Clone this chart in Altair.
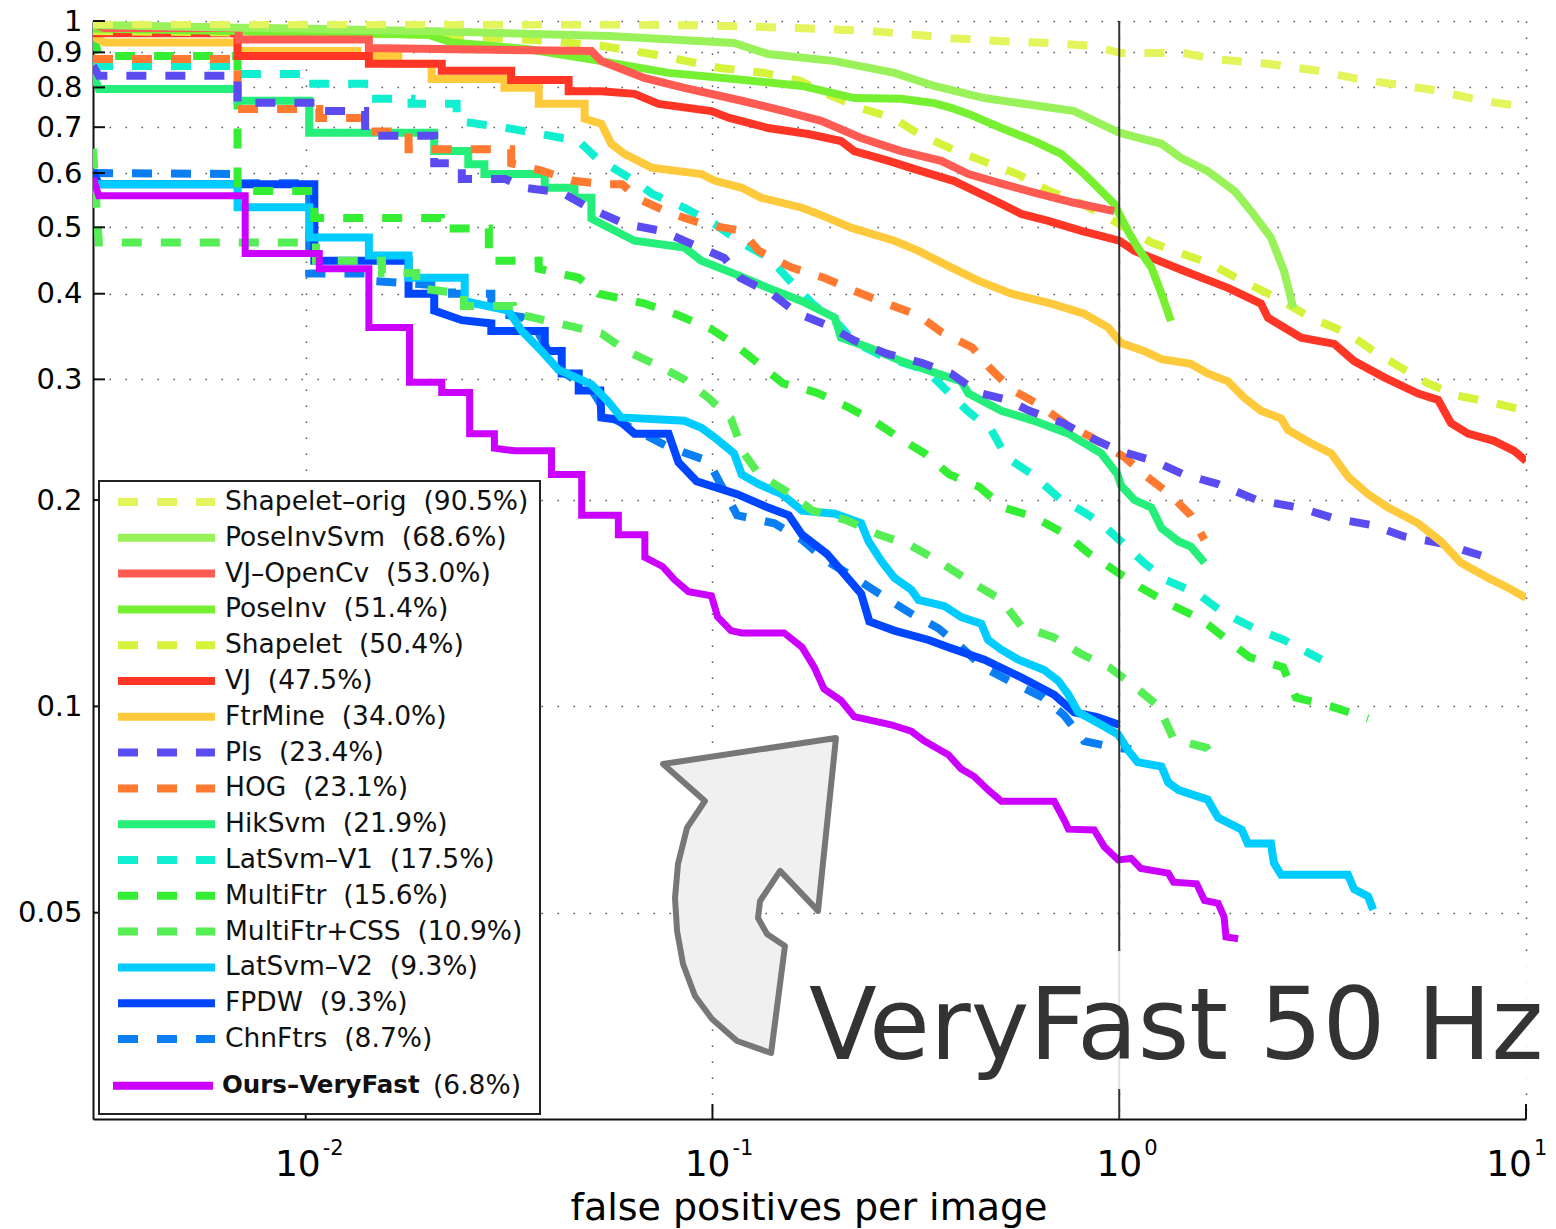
import altair as alt
import pandas as pd

# ------------------------------------------------------------------ data
METHODS = ["Shapelet-orig", "PoseInvSvm", "VJ-OpenCv", "PoseInv", "Shapelet", "VJ",
           "FtrMine", "Pls", "HOG", "HikSvm", "LatSvm-V1", "MultiFtr", "MultiFtr+CSS",
           "LatSvm-V2", "FPDW", "ChnFtrs", "Ours-VeryFast"]
SCORES = ["90.5%", "68.6%", "53.0%", "51.4%", "50.4%", "47.5%", "34.0%", "23.4%", "23.1%",
          "21.9%", "17.5%", "15.6%", "10.9%", "9.3%", "9.3%", "8.7%", "6.8%"]
COLORS = ["#E3F45C", "#9AF25A", "#FF5B52", "#78F032", "#D6F23A", "#FF3626", "#FFC93C",
          "#5B4CF2", "#FF7A30", "#26EE7A", "#10F0D0", "#33EE33", "#55EE55", "#00CCFF",
          "#0046FF", "#0A7EF2", "#CC00FF"]
STYLES = ["dashed", "solid", "solid", "solid", "dashed", "solid", "solid", "dashed", "dashed",
          "solid", "dashed", "dashed", "dashed", "solid", "solid", "dashed", "solid"]

# (false positives per image, miss rate)
SHAPELET_ORIG = [(0.003, 0.99), (0.06, 0.988), (0.1, 0.985), (0.193, 0.973), (0.242, 0.967),
                 (0.303, 0.957), (0.386, 0.944), (0.504, 0.935), (0.669, 0.929), (0.854, 0.92),
                 (1.01, 0.898), (1.44, 0.898), (1.71, 0.88), (2.32, 0.866), (3.08, 0.846),
                 (3.87, 0.823), (4.85, 0.807), (6.08, 0.791), (7.62, 0.767), (10, 0.749)]
POSEINVSVM = [(0.003, 0.987), (0.0196, 0.967), (0.0555, 0.951), (0.113, 0.929), (0.137, 0.895),
              (0.2, 0.874), (0.28, 0.84), (0.351, 0.804), (0.466, 0.772), (0.681, 0.747),
              (0.775, 0.739), (1.0, 0.687), (1.27, 0.662), (1.42, 0.631), (1.65, 0.604),
              (1.92, 0.565), (2.11, 0.528), (2.36, 0.483), (2.54, 0.432), (2.68, 0.381)]
VJ_OPENCV = [(0.003, 0.99), (0.0032, 0.977), (0.00684, 0.977), (0.00684, 0.94), (0.0143, 0.94),
             (0.0143, 0.913), (0.0504, 0.904), (0.0533, 0.874), (0.068, 0.826), (0.0853, 0.799),
             (0.118, 0.765), (0.15, 0.739), (0.185, 0.715), (0.232, 0.675), (0.291, 0.646),
             (0.365, 0.625), (0.426, 0.598), (0.513, 0.579), (0.618, 0.562), (0.775, 0.543),
             (0.972, 0.528)]
POSEINV = [(0.003, 0.975), (0.02, 0.955), (0.0229, 0.93), (0.035, 0.91), (0.0533, 0.874),
           (0.078, 0.84), (0.113, 0.823), (0.166, 0.804), (0.223, 0.772), (0.291, 0.77),
           (0.351, 0.759), (0.386, 0.747), (0.426, 0.732), (0.513, 0.698), (0.618, 0.668),
           (0.72, 0.64), (0.82, 0.598), (0.903, 0.565), (0.972, 0.541), (1.05, 0.494),
           (1.11, 0.467), (1.2, 0.437), (1.27, 0.4), (1.34, 0.365)]
SHAPELET = [(0.003, 0.967), (0.02, 0.955), (0.04, 0.935), (0.0533, 0.92), (0.0708, 0.895),
            (0.0865, 0.874), (0.104, 0.854), (0.134, 0.84), (0.164, 0.818), (0.191, 0.783),
            (0.23, 0.747), (0.278, 0.722), (0.322, 0.684), (0.382, 0.653), (0.461, 0.625),
            (0.562, 0.598), (0.673, 0.565), (0.811, 0.541), (0.967, 0.511), (1.2, 0.475),
            (1.68, 0.442), (2.0, 0.418), (2.43, 0.395), (2.96, 0.369), (3.66, 0.35),
            (4.21, 0.33), (4.93, 0.312), (5.74, 0.296), (6.8, 0.284), (8.39, 0.277), (10, 0.27)]
VJ = [(0.003, 0.96), (0.0068, 0.96), (0.0068, 0.889), (0.0143, 0.889), (0.0143, 0.866),
      (0.0216, 0.866), (0.0216, 0.846), (0.032, 0.846), (0.032, 0.82), (0.0443, 0.82),
      (0.0443, 0.79), (0.0533, 0.79), (0.0643, 0.783), (0.0737, 0.757), (0.0994, 0.739),
      (0.11, 0.722), (0.137, 0.698), (0.172, 0.684), (0.207, 0.668), (0.223, 0.646),
      (0.271, 0.625), (0.326, 0.604), (0.393, 0.584), (0.458, 0.559), (0.513, 0.541),
      (0.574, 0.523), (0.669, 0.511), (0.807, 0.494), (1.0, 0.478), (1.09, 0.462),
      (1.44, 0.432), (1.85, 0.408), (2.23, 0.387), (2.32, 0.369), (2.8, 0.345), (3.38, 0.338),
      (3.78, 0.319), (4.48, 0.302), (5.43, 0.286), (6.08, 0.28), (6.54, 0.259), (7.2, 0.25),
      (8.34, 0.244), (9.35, 0.236), (10, 0.228)]
FTRMINE = [(0.003, 0.95), (0.0032, 0.93), (0.0068, 0.93), (0.0068, 0.904), (0.0134, 0.904),
           (0.0134, 0.889), (0.0169, 0.889), (0.0169, 0.866), (0.0204, 0.866), (0.0204, 0.823),
           (0.0308, 0.823), (0.0308, 0.799), (0.0374, 0.799), (0.0374, 0.757), (0.0485, 0.757),
           (0.0485, 0.72), (0.0533, 0.708), (0.0564, 0.662), (0.0607, 0.64), (0.0708, 0.611),
           (0.0939, 0.598), (0.101, 0.585), (0.118, 0.571), (0.132, 0.552), (0.166, 0.534),
           (0.182, 0.523), (0.22, 0.499), (0.28, 0.478), (0.321, 0.462), (0.386, 0.437),
           (0.45, 0.418), (0.543, 0.4), (0.681, 0.387), (0.82, 0.374), (0.94, 0.357),
           (1.01, 0.339), (1.15, 0.33), (1.27, 0.321), (1.5, 0.316), (1.65, 0.306), (1.85, 0.298),
           (2.03, 0.282), (2.23, 0.27), (2.5, 0.263), (2.6, 0.253), (2.96, 0.242), (3.32, 0.234),
           (3.66, 0.216), (4.09, 0.204), (4.58, 0.195), (5.43, 0.185), (6.18, 0.174),
           (6.92, 0.162), (8.07, 0.154), (9.03, 0.149), (10, 0.144)]
PLS = [(0.003, 0.86), (0.0031, 0.832), (0.0068, 0.832), (0.0068, 0.76), (0.0108, 0.76),
       (0.0108, 0.739), (0.014, 0.739), (0.014, 0.68), (0.0207, 0.68), (0.0207, 0.62),
       (0.0242, 0.62), (0.0242, 0.588), (0.031, 0.588), (0.0345, 0.571), (0.0426, 0.562),
       (0.0496, 0.534), (0.0608, 0.506), (0.075, 0.494), (0.0888, 0.473), (0.107, 0.451),
       (0.117, 0.422), (0.14, 0.4), (0.161, 0.375), (0.193, 0.359), (0.223, 0.342),
       (0.268, 0.327), (0.328, 0.317), (0.386, 0.306), (0.45, 0.287), (0.531, 0.28),
       (0.601, 0.27), (0.728, 0.259), (0.844, 0.247), (1.0, 0.236), (1.22, 0.228),
       (1.44, 0.218), (1.75, 0.211), (2.18, 0.2), (2.77, 0.195), (3.38, 0.188), (4.16, 0.184),
       (5.01, 0.177), (6.18, 0.173), (7.75, 0.166)]
HOG = [(0.003, 0.88), (0.0068, 0.88), (0.0068, 0.744), (0.0108, 0.744), (0.0108, 0.722),
       (0.0143, 0.722), (0.0143, 0.69), (0.0179, 0.69), (0.0179, 0.65), (0.032, 0.65),
       (0.032, 0.62), (0.038, 0.605), (0.045, 0.585), (0.054, 0.578), (0.06, 0.578),
       (0.0658, 0.55), (0.0784, 0.525), (0.0944, 0.506), (0.118, 0.494), (0.13, 0.462),
       (0.156, 0.437), (0.188, 0.422), (0.223, 0.404), (0.268, 0.387), (0.321, 0.372),
       (0.367, 0.351), (0.435, 0.334), (0.48, 0.312), (0.543, 0.29), (0.632, 0.276),
       (0.733, 0.259), (0.854, 0.247), (1.03, 0.231), (1.15, 0.218), (1.33, 0.204),
       (1.5, 0.19), (1.62, 0.175)]
HIKSVM = [(0.003, 0.837), (0.0031, 0.796), (0.0068, 0.796), (0.0068, 0.765), (0.0102, 0.765),
          (0.0102, 0.687), (0.0207, 0.687), (0.0207, 0.646), (0.0251, 0.646), (0.0251, 0.618),
          (0.0275, 0.618), (0.0275, 0.598), (0.0387, 0.598), (0.0387, 0.571), (0.0458, 0.571),
          (0.0458, 0.552), (0.0504, 0.552), (0.0504, 0.515), (0.0533, 0.506), (0.0643, 0.478),
          (0.0853, 0.467), (0.0939, 0.447), (0.113, 0.428), (0.137, 0.408), (0.166, 0.39),
          (0.2, 0.369), (0.207, 0.345), (0.242, 0.334), (0.291, 0.319), (0.351, 0.307),
          (0.409, 0.298), (0.426, 0.286), (0.513, 0.27), (0.618, 0.261), (0.75, 0.25),
          (0.903, 0.234), (0.99, 0.218), (1.01, 0.21), (1.09, 0.2), (1.2, 0.195), (1.27, 0.182),
          (1.4, 0.174), (1.5, 0.171), (1.62, 0.162)]
LATSVM_V1 = [(0.003, 0.86), (0.0068, 0.86), (0.0068, 0.837), (0.0099, 0.837), (0.0099, 0.81),
             (0.0143, 0.81), (0.0143, 0.77), (0.0182, 0.77), (0.0182, 0.757), (0.0235, 0.757),
             (0.0235, 0.715), (0.0303, 0.70), (0.0349, 0.69), (0.0469, 0.668), (0.0519, 0.631),
             (0.0533, 0.625), (0.0615, 0.594), (0.0713, 0.559), (0.0853, 0.534), (0.101, 0.506),
             (0.119, 0.473), (0.138, 0.451), (0.155, 0.418), (0.176, 0.387), (0.204, 0.361),
             (0.223, 0.34), (0.26, 0.325), (0.336, 0.309), (0.372, 0.291), (0.423, 0.27),
             (0.485, 0.253), (0.528, 0.231), (0.611, 0.218), (0.713, 0.201), (0.807, 0.193),
             (0.903, 0.185), (1.01, 0.174), (1.15, 0.162), (1.3, 0.153), (1.56, 0.146),
             (1.8, 0.137), (2.15, 0.13), (2.54, 0.125), (3.14, 0.117)]
MULTIFTR = [(0.003, 0.957), (0.0031, 0.889), (0.0068, 0.889), (0.0068, 0.565), (0.0105, 0.565),
            (0.0105, 0.516), (0.0215, 0.516), (0.0215, 0.498), (0.0282, 0.498), (0.0282, 0.447),
            (0.0374, 0.447), (0.0374, 0.435), (0.0469, 0.422), (0.0525, 0.40), (0.0682, 0.387),
            (0.0825, 0.372), (0.0994, 0.355), (0.113, 0.338), (0.13, 0.316), (0.149, 0.296),
            (0.18, 0.287), (0.211, 0.275), (0.249, 0.261), (0.286, 0.247), (0.332, 0.234),
            (0.382, 0.218), (0.453, 0.209), (0.519, 0.195), (0.618, 0.189), (0.741, 0.178),
            (0.844, 0.167), (0.972, 0.158), (1.13, 0.149), (1.33, 0.141), (1.59, 0.134),
            (1.81, 0.126), (2.09, 0.118), (2.53, 0.114), (2.72, 0.103), (3.32, 0.1),
            (4.09, 0.096)]
MULTIFTR_CSS = [(0.003, 0.651), (0.0031, 0.475), (0.0106, 0.475), (0.0106, 0.447),
                (0.0154, 0.447), (0.0154, 0.429), (0.0187, 0.429), (0.0187, 0.408),
                (0.0245, 0.40), (0.0245, 0.384), (0.0323, 0.384), (0.0323, 0.375),
                (0.0409, 0.363), (0.0504, 0.353), (0.0533, 0.35), (0.0615, 0.33), (0.072, 0.316),
                (0.0853, 0.3), (0.0977, 0.282), (0.111, 0.263), (0.119, 0.235), (0.13, 0.218),
                (0.154, 0.205), (0.176, 0.193), (0.213, 0.187), (0.257, 0.178), (0.305, 0.172),
                (0.359, 0.163), (0.423, 0.153), (0.513, 0.143), (0.574, 0.131), (0.692, 0.126),
                (0.811, 0.119), (0.945, 0.114), (1.09, 0.107), (1.25, 0.1), (1.36, 0.0896),
                (1.64, 0.087), (1.68, 0.085)]
LATSVM_V2 = [(0.003, 0.578), (0.0068, 0.578), (0.0068, 0.535), (0.0102, 0.535), (0.0102, 0.483),
             (0.0143, 0.483), (0.0143, 0.455), (0.0179, 0.455), (0.0179, 0.422), (0.0246, 0.422),
             (0.0246, 0.39), (0.0315, 0.378), (0.034, 0.353), (0.038, 0.33), (0.0418, 0.31),
             (0.0504, 0.295), (0.0555, 0.278), (0.0596, 0.264), (0.0853, 0.261), (0.0939, 0.255),
             (0.101, 0.247), (0.113, 0.234), (0.118, 0.218), (0.13, 0.211), (0.148, 0.204),
             (0.166, 0.193), (0.2, 0.191), (0.232, 0.185), (0.242, 0.174), (0.26, 0.163),
             (0.28, 0.154), (0.308, 0.148), (0.321, 0.143), (0.372, 0.14), (0.409, 0.135),
             (0.458, 0.132), (0.476, 0.125), (0.513, 0.121), (0.565, 0.117), (0.654, 0.113),
             (0.708, 0.109), (0.75, 0.104), (0.793, 0.098), (0.903, 0.094), (0.994, 0.091),
             (1.05, 0.0864), (1.11, 0.0829), (1.27, 0.0817), (1.32, 0.0774), (1.4, 0.0755),
             (1.65, 0.0731), (1.75, 0.0688), (2.0, 0.0661), (2.07, 0.0631), (2.36, 0.0631),
             (2.4, 0.0591), (2.5, 0.0568), (3.65, 0.0568), (3.78, 0.0541), (4.09, 0.0528),
             (4.21, 0.0505)]
FPDW = [(0.003, 0.604), (0.0031, 0.578), (0.0105, 0.578), (0.0105, 0.447), (0.0179, 0.447),
        (0.0179, 0.4), (0.0207, 0.4), (0.0207, 0.378), (0.0242, 0.366), (0.0286, 0.362),
        (0.0286, 0.353), (0.0387, 0.353), (0.0387, 0.33), (0.0426, 0.33), (0.0426, 0.306),
        (0.0469, 0.306), (0.0469, 0.289), (0.053, 0.289), (0.0533, 0.264), (0.0587, 0.262),
        (0.0643, 0.25), (0.078, 0.25), (0.0825, 0.227), (0.0914, 0.213), (0.115, 0.204),
        (0.137, 0.195), (0.154, 0.19), (0.166, 0.178), (0.191, 0.167), (0.211, 0.156),
        (0.232, 0.146), (0.243, 0.133), (0.28, 0.129), (0.34, 0.125), (0.38, 0.122),
        (0.466, 0.117), (0.578, 0.11), (0.692, 0.104), (0.775, 0.098), (0.878, 0.0965),
        (1.0, 0.094)]
CHNFTRS = [(0.003, 0.6), (0.0068, 0.598), (0.0068, 0.58), (0.0102, 0.58), (0.0102, 0.428),
           (0.0143, 0.428), (0.0143, 0.418), (0.0229, 0.41), (0.0229, 0.4), (0.0286, 0.4),
           (0.0286, 0.375), (0.034, 0.37), (0.0374, 0.35), (0.0418, 0.31), (0.0504, 0.29),
           (0.0555, 0.265), (0.0673, 0.25), (0.078, 0.239), (0.0977, 0.228), (0.115, 0.19),
           (0.142, 0.185), (0.166, 0.175), (0.191, 0.163), (0.22, 0.155), (0.257, 0.146),
           (0.305, 0.137), (0.359, 0.13), (0.409, 0.122), (0.463, 0.114), (0.552, 0.108),
           (0.65, 0.103), (0.733, 0.097), (0.82, 0.089), (0.983, 0.087), (1.07, 0.0866)]
OURS = [(0.003, 0.59), (0.0031, 0.556), (0.0071, 0.556), (0.0071, 0.458), (0.0108, 0.458),
        (0.0108, 0.435), (0.0143, 0.435), (0.0143, 0.357), (0.018, 0.357), (0.018, 0.297),
        (0.0216, 0.297), (0.0216, 0.287), (0.0253, 0.287), (0.0253, 0.25), (0.0291, 0.25),
        (0.0291, 0.238), (0.0327, 0.236), (0.0402, 0.236), (0.0402, 0.218), (0.0477, 0.218),
        (0.0477, 0.19), (0.0587, 0.19), (0.0587, 0.178), (0.0682, 0.178), (0.0682, 0.165),
        (0.0754, 0.16), (0.0807, 0.153), (0.0873, 0.147), (0.0994, 0.145), (0.103, 0.135),
        (0.111, 0.129), (0.118, 0.128), (0.15, 0.128), (0.166, 0.122), (0.178, 0.114),
        (0.188, 0.106), (0.207, 0.102), (0.223, 0.0966), (0.275, 0.094), (0.308, 0.092),
        (0.332, 0.089), (0.38, 0.085), (0.409, 0.081), (0.44, 0.079), (0.476, 0.0755),
        (0.513, 0.0727), (0.692, 0.0727), (0.732, 0.0683), (0.75, 0.0662), (0.868, 0.066),
        (0.919, 0.0624), (0.994, 0.0597), (1.07, 0.06), (1.13, 0.058), (1.32, 0.0571),
        (1.36, 0.0554), (1.55, 0.0551), (1.62, 0.0521), (1.75, 0.0516), (1.81, 0.0493),
        (1.83, 0.0461), (1.96, 0.0458)]

CURVES = [SHAPELET_ORIG, POSEINVSVM, VJ_OPENCV, POSEINV, SHAPELET, VJ, FTRMINE, PLS, HOG,
          HIKSVM, LATSVM_V1, MULTIFTR, MULTIFTR_CSS, LATSVM_V2, FPDW, CHNFTRS, OURS]

Y_TICKS = [0.05, 0.1, 0.2, 0.3, 0.4, 0.5, 0.6, 0.7, 0.8, 0.9, 1]
X_TICKS = [0.01, 0.1, 1, 10]
X_EXPONENTS = ["-2", "-1", "0", "1"]
X_TITLE = "false positives per image"
BIG_TEXT = "VeryFast 50 Hz"

# arrow outline in a unit box (decoration)
ARROW_OUTLINE = [(-0.549, -0.835), (0.549, -1.0), (0.435, 0.098), (0.194, -0.156),
                 (0.067, 0.035), (0.054, 0.143), (0.111, 0.244), (0.225, 0.321), (0.137, 1.0),
                 (-0.079, 0.924), (-0.238, 0.784), (-0.346, 0.638), (-0.422, 0.435),
                 (-0.46, 0.225), (-0.473, 0.016), (-0.454, -0.2), (-0.397, -0.429),
                 (-0.283, -0.6)]

# ------------------------------------------------------------------ setup
W, H = 1433, 1098
FONT = "DejaVu Sans"
DASH = [20, 19]

xscale = alt.Scale(type="log", domain=[0.003, 10], nice=False)
yscale = alt.Scale(type="log", domain=[0.025, 1], nice=False)
cscale = alt.Scale(domain=METHODS, range=COLORS)
dscale = alt.Scale(domain=["solid", "dashed"], range=[[1, 0], DASH])

grid_kw = dict(grid=True, gridColor="#555555", gridDash=[1.5, 14.5], gridWidth=1.5,
               domainColor="#111111", domainWidth=2, ticks=False, tickSize=0, title=None)
XAXIS = alt.Axis(values=X_TICKS, labels=False, **grid_kw)
YAXIS = alt.Axis(values=Y_TICKS, format="~g", labelFont=FONT, labelFontSize=29,
                 labelColor="#000000", labelPadding=11, labelOverlap=False,
                 labelFlush=False, **grid_kw)


def X():
    return alt.X("fppi:Q", scale=xscale, axis=XAXIS)


def Y():
    return alt.Y("miss:Q", scale=yscale, axis=YAXIS)


# ------------------------------------------------------------------ curves (one layer each)
curve_layers = []
order_idx = list(range(len(METHODS) - 1))[::-1] + [len(METHODS) - 1]   # ours on top
for k in order_idx:
    df = pd.DataFrame(CURVES[k], columns=["fppi", "miss"])
    df["order"] = range(len(df))
    kw = dict(strokeWidth=7 if METHODS[k] == "Ours-VeryFast" else 8, strokeCap="butt",
              strokeJoin="miter", clip=True, color=COLORS[k])
    if STYLES[k] == "dashed":
        kw["strokeDash"] = DASH
    curve_layers.append(alt.Chart(df).mark_line(**kw).encode(x=X(), y=Y(), order="order:Q"))

vline = alt.Chart(pd.DataFrame({"fppi": [1.0]})).mark_rule(color="#333333", strokeWidth=2).encode(x=X())

yticks = alt.Chart(pd.DataFrame({"miss": Y_TICKS})).mark_rule(color="#111111", strokeWidth=2).encode(
    y=Y(), x=alt.value(0), x2=alt.value(12))
xticks = alt.Chart(pd.DataFrame({"fppi": [0.01, 0.1, 10]})).mark_rule(color="#111111", strokeWidth=2).encode(
    x=X(), y=alt.value(H - 15), y2=alt.value(H))

# x tick labels as 10 with a raised exponent
label_layers = []
for val, ex, shift in zip(X_TICKS, X_EXPONENTS, [15, 18, 23, 6]):
    d = pd.DataFrame({"fppi": [val], "base": ["10"], "exp": [ex]})
    label_layers.append(alt.Chart(d).mark_text(
        font=FONT, fontSize=36, align="right", baseline="alphabetic", dx=shift,
        color="#000000").encode(x=X(), y=alt.value(1155), text="base:N"))
    label_layers.append(alt.Chart(d).mark_text(
        font=FONT, fontSize=21, align="left", baseline="alphabetic", dx=shift + 2,
        color="#000000").encode(x=X(), y=alt.value(1134), text="exp:N"))

xtitle = alt.Chart(pd.DataFrame({"t": [X_TITLE]})).mark_text(
    font=FONT, fontSize=38, align="center", baseline="alphabetic", color="#000000").encode(
    x=alt.value(716), y=alt.value(1199), text="t:N")

# ------------------------------------------------------------------ legend
ROW0, ROWSTEP = 481, 35.8
leg_rows = []
for i, (name, score, style) in enumerate(zip(METHODS, SCORES, STYLES)):
    ours = name == "Ours-VeryFast"
    label = name.replace("-", "\u2013")
    leg_rows.append({"method": name, "style": style,
                     "ly": ROW0 + ROWSTEP * i + (11 if ours else 0),
                     "x0": 20 if ours else 25, "x1": 120 if ours else 122,
                     "text": f"{label} \u00a0({score})", "name": label,
                     "score": f"({score})", "ours": ours})
leg_df = pd.DataFrame(leg_rows)

legend_box = alt.Chart(pd.DataFrame({"a": [0]})).mark_rect(
    fill="white", stroke="#222222", strokeWidth=2).encode(
    x=alt.value(6), x2=alt.value(447), y=alt.value(460), y2=alt.value(1093))
legend_lines = alt.Chart(leg_df).mark_rule(strokeWidth=8, strokeCap="butt").encode(
    x=alt.X("x0:Q", scale=None), x2="x1:Q", y=alt.Y("ly:Q", scale=None),
    color=alt.Color("method:N", scale=cscale, legend=None),
    strokeDash=alt.StrokeDash("style:N", scale=dscale, legend=None))
legend_text = alt.Chart(leg_df[~leg_df.ours]).mark_text(
    font=FONT, fontSize=26.5, align="left", baseline="middle", color="#111111").encode(
    x=alt.value(132), y=alt.Y("ly:Q", scale=None), text="text:N")
legend_ours = alt.Chart(leg_df[leg_df.ours]).mark_text(
    font=FONT, fontSize=24.5, fontWeight="bold", align="left", baseline="middle",
    color="#111111").encode(x=alt.value(129), y=alt.Y("ly:Q", scale=None), text="name:N")
legend_ours_score = alt.Chart(leg_df[leg_df.ours]).mark_text(
    font=FONT, fontSize=26.5, align="left", baseline="middle", color="#111111").encode(
    x=alt.value(340), y=alt.Y("ly:Q", scale=None), text="score:N")

# ------------------------------------------------------------------ annotation
arrow_path = "M" + " L".join(f"{u},{v}" for u, v in ARROW_OUTLINE) + " Z"
arrow = alt.Chart(pd.DataFrame({"a": [0]})).mark_point(
    shape=arrow_path, size=99225, fill="#F0F0F0", stroke="#777777", strokeWidth=6,
    opacity=1, fillOpacity=1, strokeJoin="round").encode(x=alt.value(656.5), y=alt.value(874.5))

veil = alt.Chart(pd.DataFrame({"a": [0]})).mark_rect(fill="white", opacity=0.85).encode(
    x=alt.value(707), x2=alt.value(1452), y=alt.value(930), y2=alt.value(1068))
big = alt.Chart(pd.DataFrame({"t": [BIG_TEXT]})).mark_text(
    font=FONT, fontSize=99, color="#333333", align="left", baseline="alphabetic").encode(
    x=alt.value(716), y=alt.value(1038), text="t:N")

chart = alt.layer(
    *curve_layers, vline, yticks, xticks, legend_box, legend_lines, legend_text,
    legend_ours, legend_ours_score, arrow, veil, big, *label_layers, xtitle
).properties(
    width=W, height=H,
    autosize=alt.AutoSizeParams(type="none"),
    padding={"left": 85, "top": 13, "right": 22, "bottom": 110},
).configure_view(strokeWidth=0)

chart.save("out.html", embed_options={"renderer": "svg", "actions": False})
